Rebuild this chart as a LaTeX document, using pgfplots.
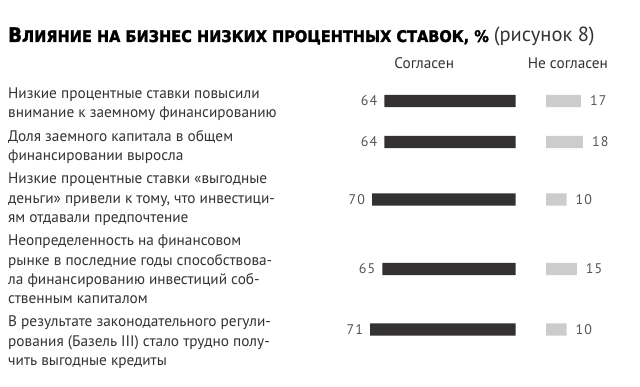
\documentclass[border=0pt]{standalone}
\usepackage{pgfplots}
\pgfplotsset{compat=1.18}
\usepackage{pgfplotstable}
\usepackage{fontspec}
\setmainfont{PT Sans}
\newfontfamily\numfont[LetterSpace=8]{PT Sans}
\newfontfamily\titlefont[FakeStretch=0.91,FakeBold=1.8]{DejaVu Sans}
\definecolor{dark}{HTML}{333132}
\definecolor{light}{HTML}{CCCCCC}
\definecolor{txt}{HTML}{333333}
\definecolor{num}{HTML}{555555}
\pgfplotstableread{
y agree disagree
101 64 17
142 64 18
199.5 70 10
269 65 15
329.5 71 10
}\data
\begin{document}
\begin{tikzpicture}
\path[use as bounding box] (0,0) rectangle (640pt,386pt);
\begin{axis}[at={(351.7pt,0pt)}, anchor=south west, scale only axis,
  width=164pt, height=386pt, xmin=0, xmax=80, ymin=0, ymax=386,
  x dir=reverse, y dir=reverse, hide axis, clip=false,
  /pgf/number format/assume math mode=true,
  xbar, bar width=12.3pt, nodes near coords,
  every node near coord/.append style={anchor=east, xshift=-7pt,
    font=\numfont\fontsize{14}{14}\selectfont, text=num, inner sep=0pt}]
\addplot[fill=dark, draw=none] table[x=agree, y=y]{\data};
\end{axis}
\begin{axis}[at={(546pt,0pt)}, anchor=south west, scale only axis,
  width=82pt, height=386pt, xmin=0, xmax=40, ymin=0, ymax=386,
  y dir=reverse, hide axis, clip=false,
  /pgf/number format/assume math mode=true,
  xbar, bar width=12.3pt, nodes near coords,
  every node near coord/.append style={anchor=west, xshift=9pt,
    font=\numfont\fontsize{14}{14}\selectfont, text=num, inner sep=0pt}]
\addplot[fill=light, draw=none] table[x=disagree, y=y]{\data};
\end{axis}
\tikzset{lbl/.style={anchor=base west, inner sep=0pt, text=txt, font=\fontsize{15.3}{19}\selectfont}}
\node[anchor=base west, inner sep=0pt] at (8pt,344pt) {{\titlefont\bfseries\fontsize{20}{20}\selectfont В\fontsize{16}{20}\selectfont ЛИЯНИЕ НА БИЗНЕС НИЗКИХ ПРОЦЕНТНЫХ СТАВОК, \%}\hspace{5pt}{\color{txt}\fontsize{20.5}{20}\selectfont(рисунок 8)}};
\node[anchor=base, inner sep=0pt, text=txt, font=\fontsize{15.3}{19}\selectfont] at (424.2pt,317.7pt) {Согласен};
\node[anchor=base, inner sep=0pt, text=txt, font=\fontsize{15.3}{19}\selectfont] at (567.9pt,317.7pt) {Не согласен};
\node[lbl] at (8pt,287.6pt) {Низкие процентные ставки повысили};
\node[lbl] at (8pt,268.3pt) {внимание к заемному финансированию};
\node[lbl] at (8pt,244.8pt) {Доля заемного капитала в общем};
\node[lbl] at (8pt,225.5pt) {финансировании выросла};
\node[lbl] at (8pt,202pt) {Низкие процентные ставки «выгодные};
\node[lbl] at (8pt,182.7pt) {деньги» привели к тому, что инвестици-};
\node[lbl] at (8pt,163.7pt) {ям отдавали предпочтение};
\node[lbl] at (8pt,140pt) {Неопределенность на финансовом};
\node[lbl] at (8pt,120.8pt) {рынке в последние годы способствова-};
\node[lbl] at (8pt,101.6pt) {ла финансированию инвестиций соб-};
\node[lbl] at (8pt,82.5pt) {ственным капиталом};
\node[lbl] at (8pt,59.3pt) {В результате законодательного регули-};
\node[lbl] at (8pt,40pt) {рования (Базель III) стало трудно полу-};
\node[lbl] at (8pt,20.8pt) {чить выгодные кредиты};
\end{tikzpicture}
\end{document}
